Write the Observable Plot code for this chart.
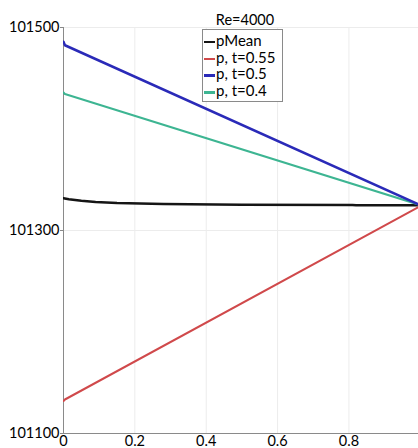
<!DOCTYPE html>
<html>
<head>
<meta charset="utf-8">
<script src="https://cdn.jsdelivr.net/npm/d3@7"></script>
<script src="https://cdn.jsdelivr.net/npm/@observablehq/plot@0.6"></script>
<style>
  body { margin: 0; background: white; font-family: Lato, "Open Sans", sans-serif; }
  #wrap { position: relative; width: 418px; height: 448px; overflow: hidden; }
  #title { position: absolute; left: 190px; width: 110px; top: 12px; text-align: center; font-size: 14.5px; line-height: 16px; color: #000; }
  #legend { position: absolute; left: 202px; top: 29px; width: 81px; height: 73px; box-sizing: border-box; border: 1px solid #8a8a8a; background: white; padding-top: 2px; }
  .row { height: 16.7px; line-height: 16.7px; font-size: 15px; color: #000; white-space: nowrap; }
  .sw { display: inline-block; width: 11px; height: 2.5px; margin-left: 1px; margin-right: 1px; vertical-align: middle; }
</style>
</head>
<body>
<div id="wrap">
  <div id="chart"></div>
  <div id="title"></div>
  <div id="legend"></div>
</div>
<script>
// ---- data ----
const xTicks = [0, 0.2, 0.4, 0.6, 0.8];
const yTicks = [101100, 101300, 101500];

const seriesNames = ["pMean", "p, t=0.55", "p, t=0.5", "p, t=0.4"];
const seriesColors = ["#151515", "#d0494b", "#2a2ab8", "#3db592"];
const chartTitle = "Re=4000";

const pMeanX = [0, 0.015, 0.05, 0.09, 0.15, 0.28, 0.5, 0.81, 0.82, 1];
const pMeanY = [101331.8, 101330.8, 101329.2, 101328.0, 101327.0, 101326.0, 101325.4, 101325.2, 101324.8, 101324.8];

const p055X = [0, 0.004, 1];
const p055Y = [101132, 101133.5, 101324];

const p05X = [0, 0.004, 1];
const p05Y = [101486, 101482.5, 101325];

const p04X = [0, 0.004, 1];
const p04Y = [101436, 101434.5, 101325];

const toRows = (xs, ys) => xs.map((x, i) => ({x, y: ys[i]}));
const rows = [toRows(pMeanX, pMeanY), toRows(p055X, p055Y), toRows(p05X, p05Y), toRows(p04X, p04Y)];
const widths = [2.5, 2, 2.5, 2];
const drawOrder = [0, 3, 1, 2];

const chart = Plot.plot({
  width: 418,
  height: 448,
  marginLeft: 63,
  marginRight: 0,
  marginTop: 27,
  marginBottom: 15,
  style: {fontFamily: "Lato, 'Open Sans', sans-serif", fontSize: "14.5px", color: "#000", background: "white"},
  x: {domain: [0, 0.995], ticks: xTicks},
  y: {domain: [101100, 101500], ticks: yTicks},
  marks: [
    Plot.gridX(xTicks, {stroke: "#ececec", strokeOpacity: 1}),
    Plot.gridY(yTicks, {stroke: "#ececec", strokeOpacity: 1}),
    Plot.axisY({ticks: yTicks, tickSize: 3, tickPadding: 1, stroke: "#888", tickFormat: d3.format("d"), label: null}),
    Plot.axisX({ticks: xTicks, tickSize: 0, tickPadding: 2, tickFormat: d => String(d), label: null}),
    Plot.ruleX([0], {stroke: "#8a8a8a"}),
    Plot.ruleY([101100], {stroke: "#8a8a8a"}),
    ...drawOrder.map(i => Plot.line(rows[i], {x: "x", y: "y", stroke: seriesColors[i], strokeWidth: widths[i], clip: true}))
  ]
});
document.getElementById("chart").append(chart);

document.getElementById("title").textContent = chartTitle;
const legend = document.getElementById("legend");
seriesNames.forEach((name, i) => {
  const row = document.createElement("div");
  row.className = "row";
  const sw = document.createElement("span");
  sw.className = "sw";
  sw.style.background = seriesColors[i];
  row.append(sw, document.createTextNode(name));
  legend.append(row);
});
</script>
</body>
</html>
